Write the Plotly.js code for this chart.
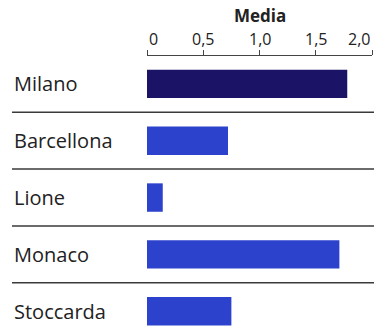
<!DOCTYPE html>
<html>
<head>
<meta charset="utf-8">
<script src="https://cdn.plot.ly/plotly-3.0.1.min.js"></script>
<style>
  html, body { margin: 0; padding: 0; background: #fff; }
  #chart { width: 374px; height: 330px; }
</style>
</head>
<body>
<div id="chart"></div>
<script>
// Average values per city
const cities = ["Milano", "Barcellona", "Lione", "Monaco", "Stoccarda"];
const media = [1.78, 0.72, 0.14, 1.71, 0.75];
const barColors = ["#1b1466", "#2c42cc", "#2c42cc", "#2c42cc", "#2c42cc"];
const tickVals = [0, 0.5, 1, 1.5, 2];
const tickText = ["0", "0,5", "1,0", "1,5", "2,0"];
const axisTitle = "Media";

const FONT = "Open Sans, sans-serif";
const INK = "#222";

const trace = {
  type: "bar",
  orientation: "h",
  x: media,
  y: cities.map((_, i) => i),
  width: 0.5,
  marker: { color: barColors, line: { width: 0 } },
  hoverinfo: "skip"
};

// Row separators between categories
const shapes = cities.slice(0, -1).map((_, i) => ({
  type: "line",
  xref: "paper", yref: "y",
  x0: -0.6, x1: 1.01,
  y0: i + 0.5, y1: i + 0.5,
  line: { color: "#3a3a3a", width: 1.5 }
}));

// Left-aligned category labels
const annotations = cities.map((c, i) => ({
  text: c,
  xref: "paper", yref: "y",
  x: -0.6, y: i,
  xanchor: "left", yanchor: "middle",
  showarrow: false,
  font: { family: FONT, size: 20, color: INK }
}));

// Tick labels on the top axis; the end labels are tucked inside the edges
tickVals.forEach((v, i) => {
  const last = tickVals.length - 1;
  annotations.push({
    text: tickText[i],
    xref: "x", yref: "paper",
    x: v, y: 1.062,
    xanchor: i === 0 ? "left" : (i === last ? "right" : "center"),
    yanchor: "middle",
    showarrow: false,
    font: { family: FONT, size: 16, color: INK }
  });
});

annotations.push({
  text: "<b>" + axisTitle + "</b>",
  xref: "x", yref: "paper",
  x: 1, y: 1.148,
  xanchor: "center", yanchor: "middle",
  showarrow: false,
  font: { family: FONT, size: 17, color: INK }
});

const layout = {
  width: 374,
  height: 330,
  margin: { l: 147, r: 2, t: 56, b: 0, pad: 0 },
  paper_bgcolor: "#fff",
  plot_bgcolor: "#fff",
  showlegend: false,
  xaxis: {
    side: "top",
    range: [0, 2],
    tickvals: tickVals,
    showticklabels: false,
    ticks: "outside",
    ticklen: 5,
    tickwidth: 1,
    tickcolor: "#444",
    showline: true,
    linecolor: "#444",
    linewidth: 1.5,
    showgrid: false,
    zeroline: false,
    fixedrange: true
  },
  yaxis: {
    range: [4.33, -0.49],
    showticklabels: false,
    showgrid: false,
    zeroline: false,
    showline: false,
    ticks: "",
    fixedrange: true
  },
  shapes: shapes,
  annotations: annotations
};

Plotly.newPlot("chart", [trace], layout, { displayModeBar: false, staticPlot: true });
</script>
</body>
</html>
